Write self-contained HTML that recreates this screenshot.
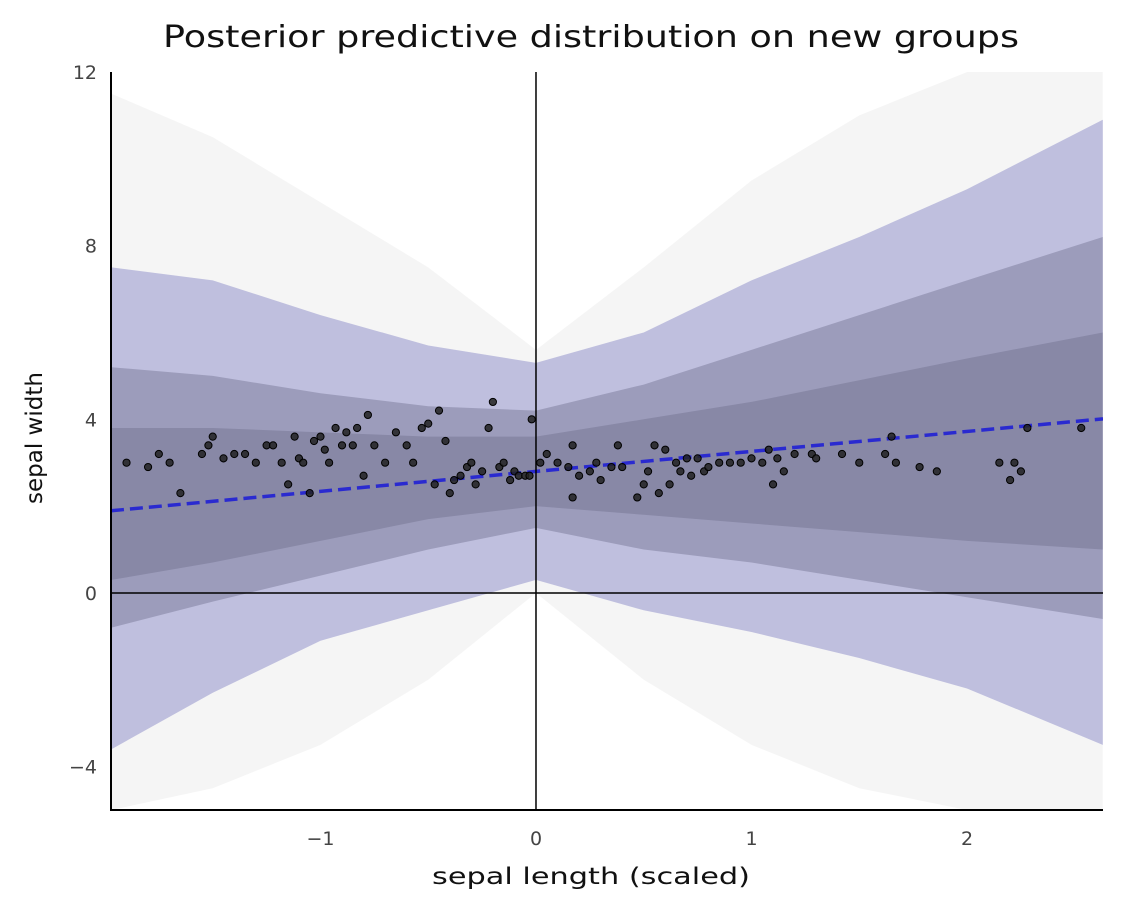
<!DOCTYPE html>
<html><head><meta charset="utf-8"><style>
body{margin:0;background:#fff;}
svg{display:block;font-family:"DejaVu Sans","Liberation Sans",sans-serif;}
</style></head><body>
<svg id="chart" width="1122" height="910" viewBox="0 0 1122 910">
<text x="163" y="47" font-size="30" fill="#111" textLength="856" lengthAdjust="spacingAndGlyphs">Posterior predictive distribution on new groups</text>
<defs><clipPath id="clip"><rect x="111" y="72" width="992" height="738"/></clipPath></defs>
<g id="plot" clip-path="url(#clip)"></g>
<g id="axes"></g>
<text x="432" y="884" font-size="23" fill="#111" textLength="318" lengthAdjust="spacingAndGlyphs">sepal length (scaled)</text>
<text transform="translate(42,438) rotate(-90)" text-anchor="middle" font-size="23" fill="#111">sepal width</text>
</svg>
<script>
const bandX=[-1.97,-1.5,-1,-0.5,0,0.5,1,1.5,2,2.63];
const outerUpper=[11.5,10.5,9,7.5,5.6,7.5,9.5,11,12,12.5];
const outerLower=[-5,-4.5,-3.5,-2,0,-2,-3.5,-4.5,-5,-5];
const hdiUpper=[7.5,7.2,6.4,5.7,5.3,6.0,7.2,8.2,9.3,10.9];
const hdiLower=[-3.6,-2.3,-1.1,-0.4,0.3,-0.4,-0.9,-1.5,-2.2,-3.5];
const coreUpper=[5.2,5.0,4.6,4.3,4.2,4.8,5.6,6.4,7.2,8.2];
const coreLower=[-0.8,-0.2,0.4,1.0,1.5,1.0,0.7,0.3,-0.1,-0.6];
const innerUpper=[3.8,3.8,3.7,3.6,3.6,4.0,4.4,4.9,5.4,6.0];
const innerLower=[0.3,0.7,1.2,1.7,2.0,1.8,1.6,1.4,1.2,1.0];
const lineIntercept=2.8, lineSlope=0.46;
const ptsX=[-1.9,-1.8,-1.75,-1.7,-1.65,-1.55,-1.52,-1.5,-1.45,-1.4,-1.35,-1.3,-1.25,-1.22,-1.18,-1.15,-1.12,-1.1,-1.08,-1.05,-1.03,-1.0,-0.98,-0.96,-0.93,-0.9,-0.88,-0.85,-0.83,-0.8,-0.78,-0.75,-0.7,-0.65,-0.6,-0.57,-0.53,-0.5,-0.47,-0.45,-0.42,-0.4,-0.38,-0.35,-0.32,-0.3,-0.28,-0.25,-0.22,-0.2,-0.17,-0.15,-0.12,-0.1,-0.08,-0.05,-0.02,-0.03,0.02,0.05,0.1,0.15,0.17,0.17,0.2,0.25,0.28,0.3,0.35,0.38,0.4,0.47,0.5,0.52,0.55,0.57,0.6,0.62,0.65,0.67,0.7,0.72,0.75,0.78,0.8,0.85,0.9,0.95,1.0,1.05,1.08,1.1,1.12,1.15,1.2,1.28,1.3,1.42,1.5,1.62,1.65,1.67,1.78,1.86,2.15,2.2,2.22,2.25,2.28,2.53];
const ptsY=[3.0,2.9,3.2,3.0,2.3,3.2,3.4,3.6,3.1,3.2,3.2,3.0,3.4,3.4,3.0,2.5,3.6,3.1,3.0,2.3,3.5,3.6,3.3,3.0,3.8,3.4,3.7,3.4,3.8,2.7,4.1,3.4,3.0,3.7,3.4,3.0,3.8,3.9,2.5,4.2,3.5,2.3,2.6,2.7,2.9,3.0,2.5,2.8,3.8,4.4,2.9,3.0,2.6,2.8,2.7,2.7,4.0,2.7,3.0,3.2,3.0,2.9,2.2,3.4,2.7,2.8,3.0,2.6,2.9,3.4,2.9,2.2,2.5,2.8,3.4,2.3,3.3,2.5,3.0,2.8,3.1,2.7,3.1,2.8,2.9,3.0,3.0,3.0,3.1,3.0,3.3,2.5,3.1,2.8,3.2,3.2,3.1,3.2,3.0,3.2,3.6,3.0,2.9,2.8,3.0,2.6,3.0,2.8,3.8,3.8];
const xTicks=[-1,0,1,2], xTickLabels=["\u22121","0","1","2"];
const yTicks=[-4,0,4,8,12], yTickLabels=["\u22124","0","4","8","12"];
const X0=-1.972,X1=2.631,Y0=-5,Y1=12;
const sx=v=>111+(v-X0)/(X1-X0)*992;
const sy=v=>810-(v-Y0)/(Y1-Y0)*738;
const NS="http://www.w3.org/2000/svg";
const plot=document.getElementById('plot'),axes=document.getElementById('axes');
function mk(t,a,p){const e=document.createElementNS(NS,t);for(const k in a)e.setAttribute(k,a[k]);p.appendChild(e);return e;}
function band(up,lo,fill,op,name){
 let d='M'+bandX.map((x,i)=>sx(x)+','+sy(up[i])).join('L');
 d+='L'+bandX.map((x,i)=>[x,i]).reverse().map(([x,i])=>sx(x)+','+sy(lo[i])).join('L')+'Z';
 const p=mk('path',{d:d,fill:fill,'fill-opacity':op},plot);
 
 
}
band(outerUpper,outerLower,'#000',0.04,'sample-lines-extent');
band(hdiUpper,hdiLower,'#dcdcff',0.9,'hdi-band');
band(hdiUpper,hdiLower,'#303050',0.18,'sample-lines-spread');
band(coreUpper,coreLower,'#202040',0.22,'sample-lines-core');
band(innerUpper,innerLower,'#101028',0.14,'sample-lines-inner');
const ln=mk('line',{x1:sx(X0),y1:sy(lineIntercept+lineSlope*X0),x2:sx(X1),y2:sy(lineIntercept+lineSlope*X1),stroke:'#2a2ad0','stroke-width':3.5,'stroke-dasharray':'13,6'},plot);


ptsX.forEach((x,i)=>{const c=mk('circle',{cx:sx(x),cy:sy(ptsY[i]),r:3.6,fill:'#222',stroke:'#000','stroke-width':1,'fill-opacity':0.85},plot);
 
 });
const zx=mk('line',{x1:sx(0),y1:72,x2:sx(0),y2:810,stroke:'#000','stroke-width':1.5},axes);

const zy=mk('line',{x1:111,y1:sy(0),x2:1103,y2:sy(0),stroke:'#000','stroke-width':1.5},axes);

const ls=mk('line',{x1:111,y1:72,x2:111,y2:811,stroke:'#000','stroke-width':2},axes);

const bs=mk('line',{x1:110,y1:810,x2:1103,y2:810,stroke:'#000','stroke-width':2},axes);

xTicks.forEach((v,i)=>{const t=mk('text',{x:sx(v),y:845,'text-anchor':'middle','font-size':19,fill:'#444'},axes);t.textContent=xTickLabels[i];
 });
yTicks.forEach((v,i)=>{const t=mk('text',{x:97,y:sy(v)+7,'text-anchor':'end','font-size':19,fill:'#444'},axes);t.textContent=yTickLabels[i];
 });
</script>
</body></html>
